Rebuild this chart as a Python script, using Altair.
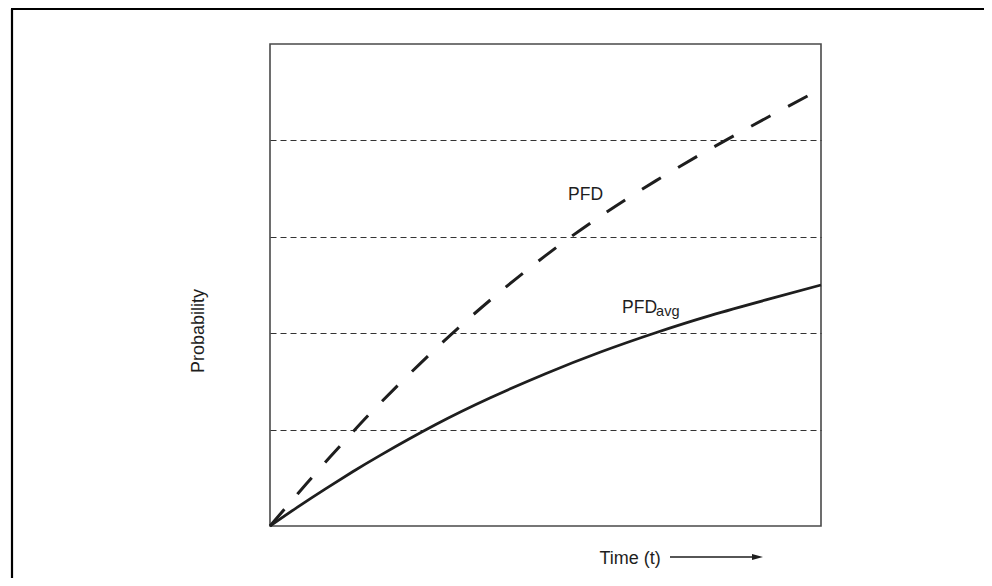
import altair as alt
import pandas as pd

# ---- data ----
time = [0, 0.5, 1, 1.5, 2, 3, 4, 5, 6, 7, 8, 9, 10]
pfd = [0, 0.333, 0.658, 0.973, 1.275, 1.835, 2.345, 2.805, 3.215, 3.58, 3.915, 4.23, 4.535]
pfd_avg = [0, 0.196, 0.383, 0.5625, 0.733, 1.05, 1.33, 1.58, 1.805, 2.005, 2.185, 2.345, 2.50]
grid_values = [1, 2, 3, 4]

label_text = ["PFD", "PFD"]
label_t = [5.41, 6.39]
label_p = [3.38, 2.21]
sub_text = ["avg"]
sub_t = [6.39]
sub_p = [2.21]

FONT = "Liberation Sans"
INK = "#1e1e1e"

curves = pd.DataFrame({"t": time, "pfd": pfd, "pfd_avg": pfd_avg})
labels = pd.DataFrame({"text": label_text, "t": label_t, "p": label_p})
subs = pd.DataFrame({"text": sub_text, "t": sub_t, "p": sub_p})
one = pd.DataFrame({"a": [0]})

xscale = alt.Scale(domain=[0, 10], nice=False, zero=False)
yscale = alt.Scale(domain=[0, 5], nice=False, zero=False)

xaxis = alt.Axis(
    title="Time (t)", labels=False, ticks=False, domain=False, grid=False,
    titleX=329, titleY=37, titleAlign="left", titleBaseline="alphabetic",
    titleFontSize=18, titleFont=FONT, titleFontWeight="normal", titleColor=INK,
)
yaxis = alt.Axis(
    title="Probability", values=grid_values, labels=False, ticks=False,
    domain=False, grid=True, gridDash=[6, 4], gridColor="#333333", gridWidth=1,
    titleX=-67, titleY=286.5, titleBaseline="alphabetic",
    titleFontSize=18, titleFont=FONT, titleFontWeight="normal", titleColor=INK,
)

base = alt.Chart(curves)

pfd_line = base.mark_line(
    color=INK, strokeWidth=3, strokeDash=[22, 20], interpolate="natural"
).encode(
    x=alt.X("t:Q", scale=xscale, axis=xaxis),
    y=alt.Y("pfd:Q", scale=yscale, axis=yaxis),
)

avg_line = base.mark_line(
    color=INK, strokeWidth=2.8, interpolate="natural"
).encode(
    x=alt.X("t:Q", scale=xscale),
    y=alt.Y("pfd_avg:Q", scale=yscale),
)

label_layer = alt.Chart(labels).mark_text(
    align="left", baseline="alphabetic", font=FONT, fontSize=17.5, color=INK
).encode(
    x=alt.X("t:Q", scale=xscale),
    y=alt.Y("p:Q", scale=yscale),
    text="text:N",
)

sub_layer = alt.Chart(subs).mark_text(
    align="left", baseline="alphabetic", font=FONT, fontSize=14.5, color=INK,
    dx=34, dy=3,
).encode(
    x=alt.X("t:Q", scale=xscale),
    y=alt.Y("p:Q", scale=yscale),
    text="text:N",
)

# decorations: outer frame and the time arrow
frame_left = alt.Chart(one).mark_rule(color="black", strokeWidth=2.2).encode(
    x=alt.value(-258), y=alt.value(-35), y2=alt.value(560)
)
frame_top = alt.Chart(one).mark_rule(color="black", strokeWidth=2.2).encode(
    x=alt.value(-259), x2=alt.value(714), y=alt.value(-35)
)
arrow_shaft = alt.Chart(one).mark_rule(color=INK, strokeWidth=1.3).encode(
    x=alt.value(400), x2=alt.value(483), y=alt.value(513)
)
arrow_head = alt.Chart(one).mark_point(
    shape="M-1,-0.55L1,0L-1,0.55Z", filled=True, color=INK, opacity=1, size=121,
    strokeWidth=0,
).encode(x=alt.value(487.5), y=alt.value(513))

chart = alt.layer(
    pfd_line, avg_line, label_layer, sub_layer,
    frame_left, frame_top, arrow_shaft, arrow_head,
).properties(
    width=551, height=482,
    background="white",
    autosize=alt.AutoSizeParams(type="none"),
    padding={"left": 262, "top": 36, "right": 163, "bottom": 52},
).configure_view(
    stroke="#4a4a4a", strokeWidth=1.6
)

chart.save("out.html", embed_options={"renderer": "svg", "actions": False})
